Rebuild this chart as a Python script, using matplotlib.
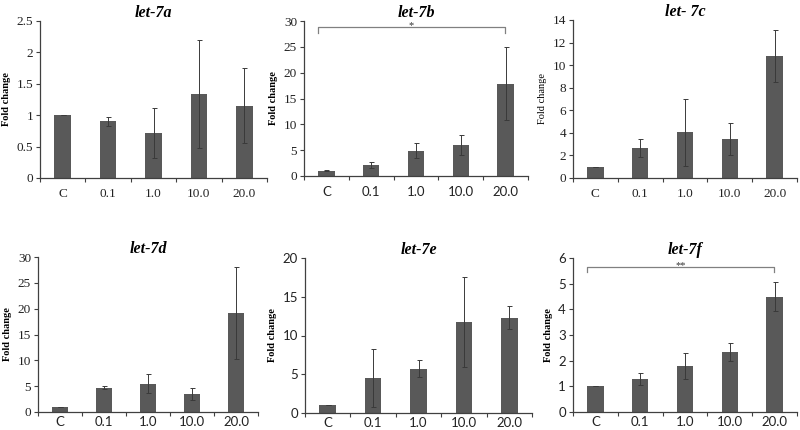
import matplotlib
matplotlib.use("Agg")
import matplotlib.pyplot as plt
from matplotlib.ticker import FixedLocator

categories = ["C", "0.1", "1.0", "10.0", "20.0"]

titles = ["let-7a", "let-7b", "let- 7c", "let-7d", "let-7e", "let-7f"]

val_7a = [1.0, 0.9, 0.72, 1.34, 1.15]
err_7a = [0.0, 0.07, 0.40, 0.86, 0.60]
val_7b = [1.0, 2.2, 4.9, 6.0, 17.9]
err_7b = [0.1, 0.6, 1.4, 1.9, 7.0]
val_7c = [1.0, 2.7, 4.05, 3.45, 10.8]
err_7c = [0.0, 0.8, 2.95, 1.4, 2.3]
val_7d = [1.0, 4.7, 5.5, 3.5, 19.1]
err_7d = [0.0, 0.3, 1.8, 1.1, 8.9]
val_7e = [1.0, 4.5, 5.7, 11.7, 12.3]
err_7e = [0.0, 3.7, 1.1, 5.8, 1.5]
val_7f = [1.0, 1.3, 1.8, 2.33, 4.5]
err_7f = [0.0, 0.23, 0.5, 0.35, 0.57]

values = [val_7a, val_7b, val_7c, val_7d, val_7e, val_7f]
errors = [err_7a, err_7b, err_7c, err_7d, err_7e, err_7f]
ymax = [2.5, 30, 14, 30, 20, 6]
ystep = [0.5, 5, 2, 5, 5, 1]
ytick_labels = [
    ["0", "0.5", "1", "1.5", "2", "2.5"],
    ["0", "5", "10", "15", "20", "25", "30"],
    ["0", "2", "4", "6", "8", "10", "12", "14"],
    ["0", "5", "10", "15", "20", "25", "30"],
    ["0", "5", "10", "15", "20"],
    ["0", "1", "2", "3", "4", "5", "6"],
]
sig_labels = [None, "*", None, None, None, "**"]
sig_heights = [None, 28.8, None, None, None, 5.65]

SERIF = "Liberation Serif"
SANS = "Lato"
ytick_font = [SERIF, SERIF, SERIF, SERIF, SANS, SANS]
xtick_font = [SERIF, SANS, SERIF, SANS, SANS, SANS]
ylabel_weight = ["bold", "bold", "normal", "bold", "bold", "bold"]

# pixel boxes: left, right, top, bottom
boxes = [
    (40, 267, 21, 178),
    (304, 528, 21, 176),
    (573, 797, 20, 178),
    (38, 258, 257, 412),
    (305, 532, 258, 413),
    (573, 797, 258, 412),
]

W, H = 800, 430
fig = plt.figure(figsize=(W / 100, H / 100), dpi=100)
fig.patch.set_facecolor("white")

bar_color = "#595959"
spine_color = "#404040"

for i in range(6):
    l, r, t, b = boxes[i]
    ax = fig.add_axes([l / W, 1 - b / H, (r - l) / W, (b - t) / H])
    x = list(range(len(categories)))
    ax.bar(x, values[i], width=0.37, color=bar_color, zorder=2)
    ax.errorbar(x, values[i], yerr=errors[i], fmt="none", ecolor="#3a3a3a",
                elinewidth=0.7, capsize=1.8, capthick=0.7, zorder=3)
    ax.set_xlim(-0.5, 4.5)
    ax.set_ylim(0, ymax[i])
    n = len(ytick_labels[i])
    ax.set_yticks([k * ystep[i] for k in range(n)])
    ax.set_yticklabels(ytick_labels[i], fontfamily=ytick_font[i], fontsize=9.5,
                       color="#222222")
    ax.set_xticks(x)
    ax.set_xticklabels(categories, fontfamily=xtick_font[i], fontsize=9.5,
                       color="#222222")
    ax.xaxis.set_minor_locator(FixedLocator([k - 0.5 for k in range(6)]))
    xpad = 7 if i < 3 else 3
    ax.tick_params(axis="x", which="major", length=0, pad=xpad)
    ax.tick_params(axis="x", which="minor", length=3, width=0.8,
                   color=spine_color, direction="out")
    ax.tick_params(axis="y", length=3, width=0.8, color=spine_color,
                   direction="out", pad=2)
    for s in ["top", "right"]:
        ax.spines[s].set_visible(False)
    for s in ["left", "bottom"]:
        ax.spines[s].set_color(spine_color)
        ax.spines[s].set_linewidth(0.9)
    ax.set_ylabel("Fold change", fontfamily=SERIF, fontsize=7.5,
                  fontweight=ylabel_weight[i], labelpad=4)
    ax.set_title(titles[i], fontfamily=SERIF, fontsize=11.5, fontweight="bold",
                 fontstyle="italic", pad=2)
    if sig_labels[i]:
        h = sig_heights[i]
        drop = ymax[i] * 0.035
        x0, x1 = -0.18, 3.98
        ax.plot([x0, x0, x1, x1], [h - drop, h, h, h - drop], color="#808080",
                lw=0.9, clip_on=False, zorder=4)
        ax.text((x0 + x1) / 2, h + ymax[i] * 0.012, sig_labels[i],
                ha="center", va="center", fontsize=7.5, fontfamily=SERIF,
                color="#333333")

fig.savefig("out.png", dpi=100)
